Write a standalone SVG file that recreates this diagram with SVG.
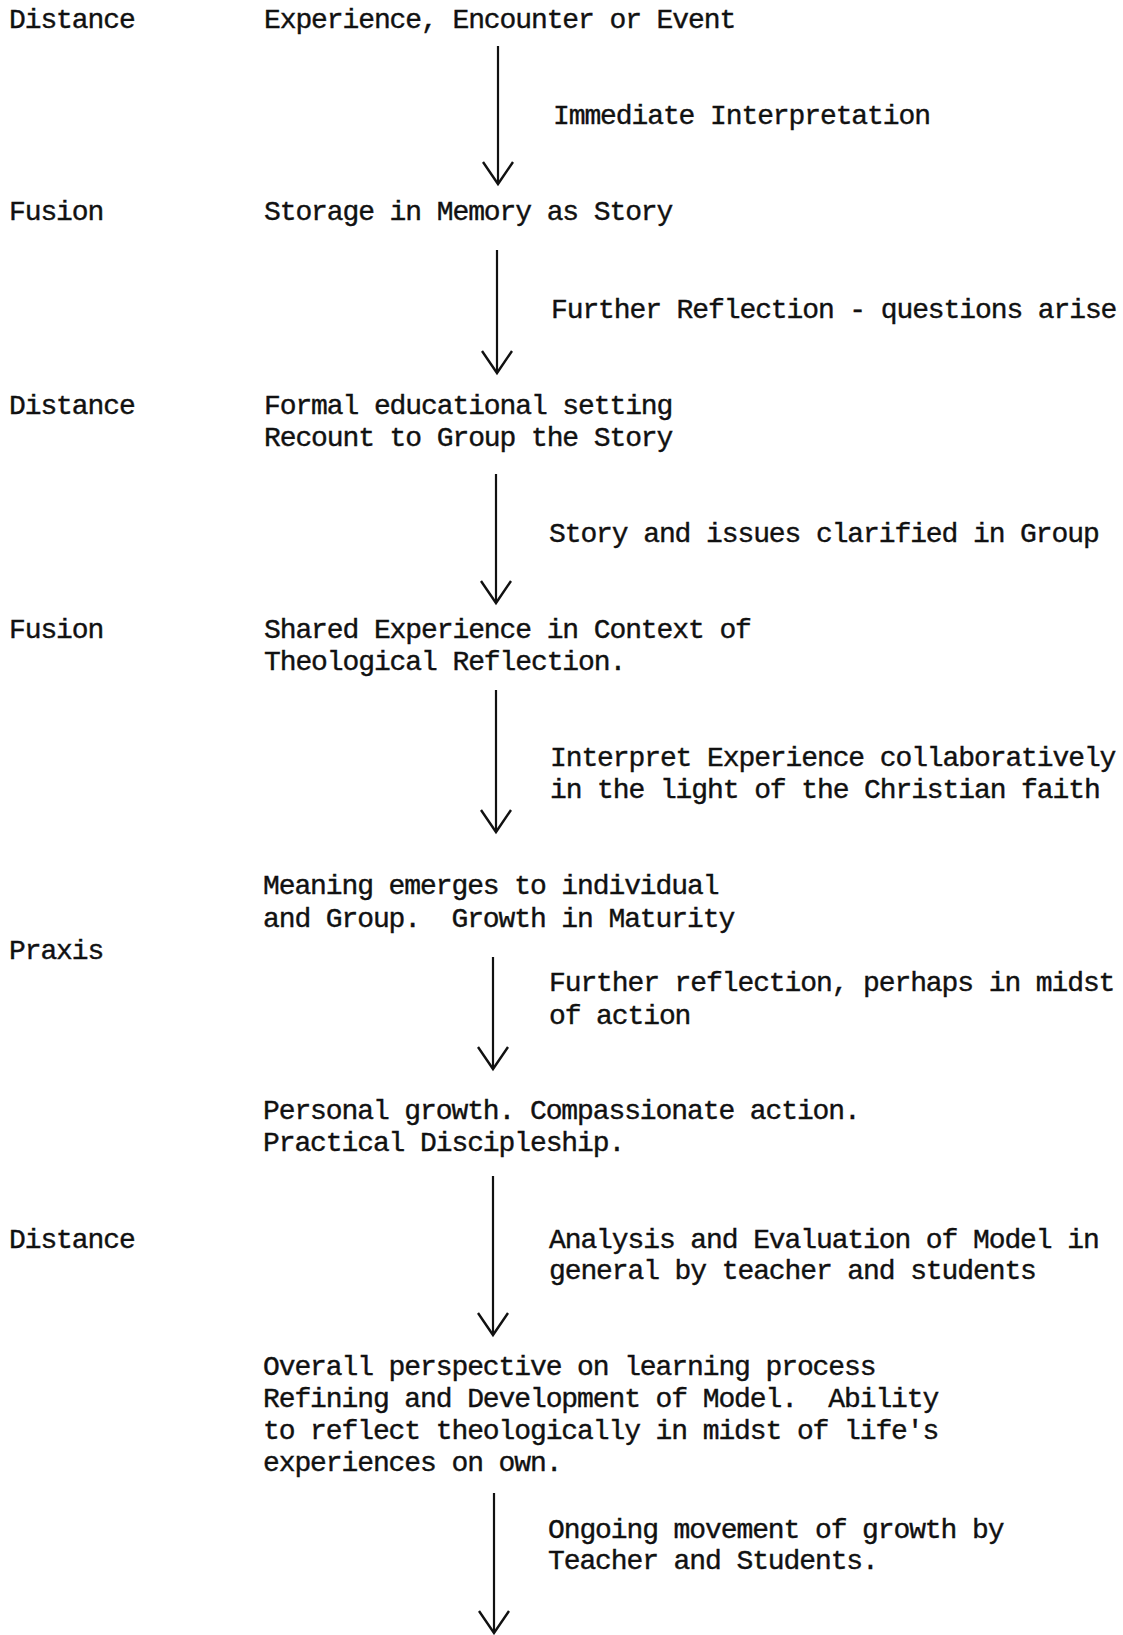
<svg xmlns="http://www.w3.org/2000/svg" width="1123" height="1635" viewBox="0 0 1123 1635">
<defs>
<style>
text{font-family:"Liberation Mono","Courier New",monospace;font-size:28px;letter-spacing:-1.1px;fill:#111;stroke:#111;stroke-width:0.4px;white-space:pre}
.conn line{stroke:#111;stroke-width:2.2;fill:none}
</style>
<marker id="vhead" markerUnits="userSpaceOnUse" viewBox="-26 -18 30 36" refX="0" refY="0" markerWidth="30" markerHeight="36" orient="auto" overflow="visible">
<path d="M-22,-15 L0,0 L-22,15" fill="none" stroke="#111" stroke-width="2.4" stroke-linejoin="miter"/>
</marker>
</defs>
<rect width="1123" height="1635" fill="#fff"/>
<g id="phases">
<text x="9" y="28">Distance</text>
<text x="9" y="220">Fusion</text>
<text x="9" y="414">Distance</text>
<text x="9" y="638">Fusion</text>
<text x="9" y="959">Praxis</text>
<text x="9" y="1248">Distance</text>
</g>
<g id="n1"><text x="264" y="28">Experience, Encounter or Event</text></g>
<g id="n2"><text x="264" y="220">Storage in Memory as Story</text></g>
<g id="n3"><text x="264" y="414">Formal educational setting</text><text x="264" y="446">Recount to Group the Story</text></g>
<g id="n4"><text x="264" y="638">Shared Experience in Context of</text><text x="264" y="670">Theological Reflection.</text></g>
<g id="n5"><text x="263" y="894">Meaning emerges to individual</text><text x="263" y="927" xml:space="preserve">and Group.  Growth in Maturity</text></g>
<g id="n6"><text x="263" y="1119">Personal growth. Compassionate action.</text><text x="263" y="1151">Practical Discipleship.</text></g>
<g id="n7"><text x="263" y="1375">Overall perspective on learning process</text><text x="263" y="1407" xml:space="preserve">Refining and Development of Model.  Ability</text><text x="263" y="1439">to reflect theologically in midst of life's</text><text x="263" y="1471">experiences on own.</text></g>
<g id="connectors" class="conn">
<line x1="498" y1="46" x2="498" y2="184" marker-end="url(#vhead)"/>
<line x1="497" y1="250" x2="497" y2="373" marker-end="url(#vhead)"/>
<line x1="496" y1="474" x2="496" y2="603" marker-end="url(#vhead)"/>
<line x1="496" y1="690" x2="496" y2="832" marker-end="url(#vhead)"/>
<line x1="493" y1="957" x2="493" y2="1069" marker-end="url(#vhead)"/>
<line x1="493" y1="1176" x2="493" y2="1335" marker-end="url(#vhead)"/>
<line x1="494" y1="1493" x2="494" y2="1633" marker-end="url(#vhead)"/>
</g>
<g id="labels">
<text x="553" y="124">Immediate Interpretation</text>
<text x="551" y="318">Further Reflection - questions arise</text>
<text x="549" y="542">Story and issues clarified in Group</text>
<text x="550" y="766">Interpret Experience collaboratively</text>
<text x="550" y="798">in the light of the Christian faith</text>
<text x="549" y="991">Further reflection, perhaps in midst</text>
<text x="549" y="1024">of action</text>
<text x="549" y="1248">Analysis and Evaluation of Model in</text>
<text x="549" y="1279">general by teacher and students</text>
<text x="548" y="1538">Ongoing movement of growth by</text>
<text x="548" y="1569">Teacher and Students.</text>
</g>
</svg>
